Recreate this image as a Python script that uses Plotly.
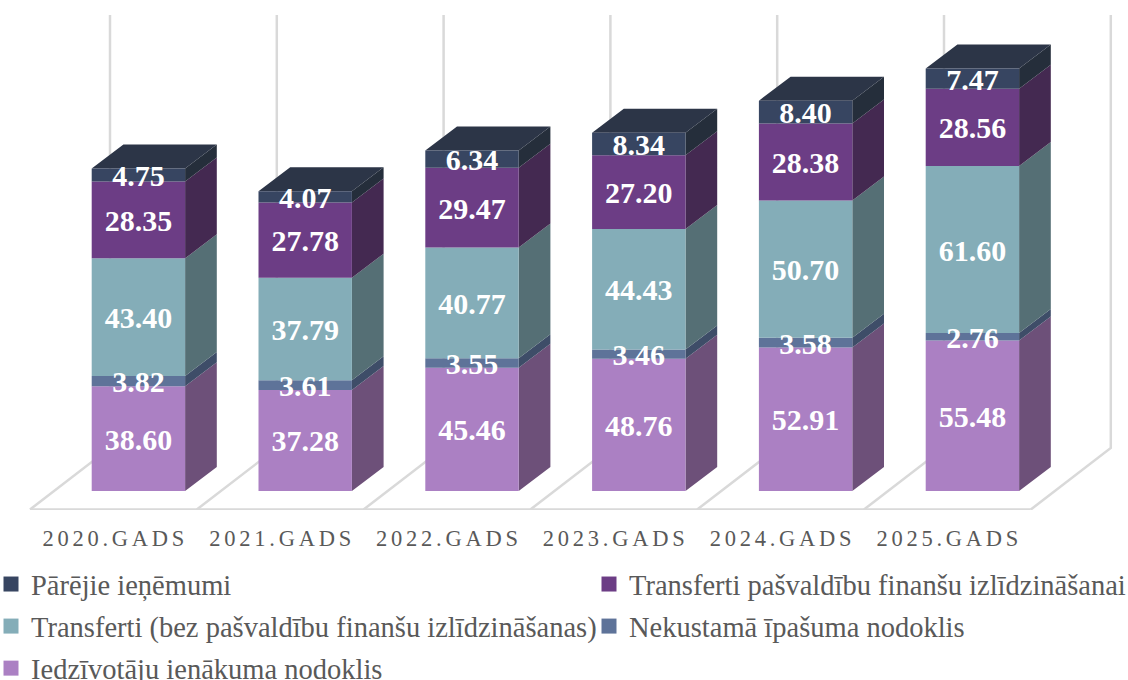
import plotly.graph_objects as go

years = ["2020.GADS", "2021.GADS", "2022.GADS", "2023.GADS", "2024.GADS", "2025.GADS"]
iedz = [38.60, 37.28, 45.46, 48.76, 52.91, 55.48]
nek = [3.82, 3.61, 3.55, 3.46, 3.58, 2.76]
transf = [43.40, 37.79, 40.77, 44.43, 50.70, 61.60]
izl = [28.35, 27.78, 29.47, 27.20, 28.38, 28.56]
par = [4.75, 4.07, 6.34, 8.34, 8.40, 7.47]

names = ["Iedzīvotāju ienākuma nodoklis", "Nekustamā īpašuma nodoklis",
         "Transferti (bez pašvaldību finanšu izlīdzināšanas)",
         "Transferti pašvaldību finanšu izlīdzināšanai", "Pārējie ieņēmumi"]
series = [iedz, nek, transf, izl, par]
front = ["#AB80C3", "#5E7399", "#84ADB8", "#6C3D85", "#374561"]
side = ["#6D5079", "#3E4D68", "#556F75", "#442951", "#252E3B"]
top_col = "#2C3547"

W, H = 1128, 680
PXX = 166.8
PXY = 2.711
X0 = 138.4
Y0 = 491
PLOT_BOTTOM = 510
BAR_W = 93.4 / PXX
DX = 31.7 / PXX
DY = 24 / PXY

xmin = -X0 / PXX
xmax = (W - X0) / PXX
ymin = -(PLOT_BOTTOM - Y0) / PXY
ymax = Y0 / PXY

fig = go.Figure()

# floor and back-wall gridlines
gx, gy = [], []
n = len(years)
fy = -18.5 / PXY
by = 43 / PXY
tp = 476 / PXY
bx = 55 / PXX
fx = -25 / PXX
for i in range(n + 1):
    b = i - 0.5
    gx += [b + fx, b + bx, b + bx, None]
    gy += [fy, by, tp, None]
gx += [-0.5 + fx, n - 0.5 + fx]
gy += [fy, fy]
fig.add_trace(go.Scatter(x=gx, y=gy, mode="lines", line=dict(color="#D9D9D9", width=2.5),
                         showlegend=False, hoverinfo="skip", zorder=-1, cliponaxis=False))

# side faces and top
cum = [0.0] * n
bases = []
for k, vals in enumerate(series):
    bases.append(list(cum))
    sx, sy = [], []
    for i, v in enumerate(vals):
        r = i + BAR_W / 2
        b0 = cum[i]
        b1 = cum[i] + v
        sx += [r, r + DX, r + DX, r, r, None]
        sy += [b0, b0 + DY, b1 + DY, b1, b0, None]
        cum[i] = b1
    fig.add_trace(go.Scatter(x=sx, y=sy, mode="lines", fill="toself", fillcolor=side[k],
                             line=dict(width=0, color=side[k]), showlegend=False,
                             hoverinfo="skip", zorder=0))
tx, ty = [], []
for i in range(n):
    l = i - BAR_W / 2
    r = i + BAR_W / 2
    tx += [l, l + DX, r + DX, r, l, None]
    ty += [cum[i], cum[i] + DY, cum[i] + DY, cum[i], cum[i], None]
fig.add_trace(go.Scatter(x=tx, y=ty, mode="lines", fill="toself", fillcolor=top_col,
                         line=dict(width=0, color=top_col), showlegend=False,
                         hoverinfo="skip", zorder=0))

# front faces
for k, vals in enumerate(series):
    fig.add_trace(go.Bar(x=list(range(n)), y=vals, base=bases[k], width=BAR_W,
                         marker=dict(color=front[k], line=dict(width=0)),
                         name=names[k], showlegend=False, zorder=1))

# value labels above every bar
LABEL_DROP = 3.5 / PXY
for k, vals in enumerate(series):
    fig.add_trace(go.Scatter(x=list(range(n)),
                             y=[b + v / 2 - LABEL_DROP for b, v in zip(bases[k], vals)],
                             mode="text", text=[f"{v:.2f}" for v in vals],
                             textposition="middle center",
                             textfont=dict(family="Liberation Serif", size=30, color="white", weight="bold"),
                             showlegend=False, hoverinfo="skip", zorder=2))

# legend entries
for k, lg in [(4, "legend"), (2, "legend"), (0, "legend"), (3, "legend2"), (1, "legend2")]:
    fig.add_trace(go.Scatter(x=[None], y=[None], mode="markers", name=names[k], legend=lg,
                             legendgroup=names[k],
                             marker=dict(symbol="square", size=15, color=front[k])))

lfont = dict(family="Liberation Serif", size=28.5, color="#595959")
PH = PLOT_BOTTOM
fig.update_layout(
    width=W, height=H, barmode="overlay", showlegend=True,
    paper_bgcolor="white", plot_bgcolor="white",
    margin=dict(l=0, r=0, t=0, b=H - PLOT_BOTTOM, autoexpand=False),
    xaxis=dict(range=[xmin, xmax], tickmode="array", tickvals=[i + fx for i in range(n)],
               ticktext=["\u200a\u200a".join(y) for y in years], showgrid=False, zeroline=False,
               showline=False, ticks="outside", ticklen=8, tickcolor="rgba(0,0,0,0)",
               tickfont=dict(family="Liberation Serif", size=22.5, color="#595959")),
    yaxis=dict(range=[ymin, ymax], visible=False),
    legend=dict(x=-9 / W, y=(PH - 559) / PH, xanchor="left", yanchor="top",
                traceorder="grouped", tracegroupgap=2, font=lfont, bgcolor="rgba(0,0,0,0)"),
    legend2=dict(x=589 / W, y=(PH - 559) / PH, xanchor="left", yanchor="top",
                 traceorder="grouped", tracegroupgap=2, font=lfont, bgcolor="rgba(0,0,0,0)"),
)
fig.write_html("out.html", post_script="document.body.style.margin='0';",
               config={"displayModeBar": False})
